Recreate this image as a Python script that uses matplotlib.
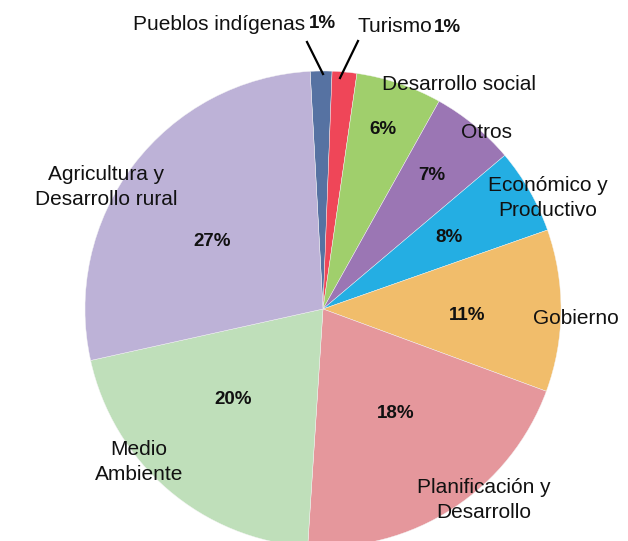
import matplotlib
matplotlib.use('Agg')
import matplotlib.pyplot as plt

W, H = 628, 541

# sectors, clockwise from the top (sizes)
sectors = ['Pueblos indígenas', 'Turismo', 'Desarrollo social', 'Otros',
           'Económico y\nProductivo', 'Gobierno', 'Planificación y\nDesarrollo',
           'Medio\nAmbiente', 'Agricultura y\nDesarrollo rural']
shares = [1.47, 1.67, 5.83, 5.72, 5.78, 11.0, 20.4, 20.5, 27.6]
pct_labels = ['1%', '1%', '6%', '7%', '8%', '11%', '18%', '20%', '27%']
colors = ['#5672a2', '#ef4658', '#a0cf6c', '#9b76b4', '#24aee3',
          '#f1bd6b', '#e5979c', '#bfdfba', '#bdb2d7']

# where the texts go, in pixels (x from left, y from top)
name_pos = [None, None, (459, 84), (486, 132), (548, 198), (576, 319),
            (484, 500), (139, 462), (106, 187)]
pct_pos = [None, None, (383, 129), (432, 175), (449, 238), (467, 316),
           (396, 413), (233, 400), (212, 241)]

cx, cy, R = 323, 309, 238

fig = plt.figure(figsize=(W / 100, H / 100), dpi=100)
ax = fig.add_axes([0, 0, 1, 1])

ax.pie(shares, colors=colors, startangle=93.1, counterclock=False,
       radius=1.0, wedgeprops=dict(edgecolor='#f4f4f4', linewidth=0.3))
ax.set_aspect('auto')
ax.set_xlim(-cx / R, (W - cx) / R)
ax.set_ylim(-(H - cy) / R, cy / R)
ax.axis('off')

def px(x, y):
    return (x / W, 1 - y / H)

font = 'Liberation Sans'
name_size = 15
pct_size = 13.5
for i in range(len(sectors)):
    if name_pos[i] is not None:
        fig.text(*px(*name_pos[i]), sectors[i], ha='center', va='center',
                 fontsize=name_size, family=font, linespacing=1.4, color='#111111')
    if pct_pos[i] is not None:
        fig.text(*px(*pct_pos[i]), pct_labels[i], ha='center', va='center',
                 fontsize=pct_size, family=font, weight='bold', color='#111111')

# the two small slices at the top get callouts
fig.text(*px(305, 24), sectors[0], ha='right', va='center', fontsize=name_size,
         family=font, color='#111111')
fig.text(*px(309, 24), pct_labels[0], ha='left', va='center', fontsize=pct_size,
         family=font, weight='bold', color='#111111')
fig.text(*px(358, 27), sectors[1], ha='left', va='center', fontsize=name_size,
         family=font, color='#111111')
fig.text(*px(434, 27), pct_labels[1], ha='left', va='center', fontsize=pct_size,
         family=font, weight='bold', color='#111111')

for (x0, y0), (x1, y1) in [((307, 42), (323, 74)), ((358, 41), (340, 78))]:
    p0, p1 = px(x0, y0), px(x1, y1)
    fig.add_artist(plt.Line2D([p0[0], p1[0]], [p0[1], p1[1]],
                              transform=fig.transFigure, color='black', lw=1.6))

plt.savefig('out.png', dpi=100)
